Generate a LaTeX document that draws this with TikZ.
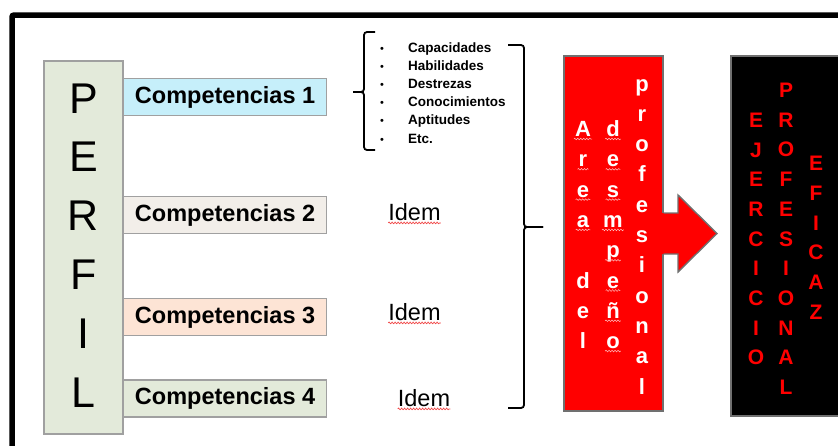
\documentclass[tikz,border=0pt]{standalone}
\usepackage{fontspec}
\setmainfont{Liberation Sans}
\usepackage{xcolor}
\definecolor{perfilgreen}{RGB}{227,234,218}
\definecolor{compblue}{RGB}{198,239,250}
\definecolor{compbeige}{RGB}{242,238,233}
\definecolor{comppeach}{RGB}{253,228,213}
\definecolor{boxgray}{RGB}{160,160,160}
\definecolor{edgegray}{RGB}{112,112,112}
\definecolor{brightred}{RGB}{255,0,0}
\definecolor{squigglered}{RGB}{240,70,70}
\definecolor{squigglepink}{RGB}{255,190,190}
\usetikzlibrary{positioning,decorations.pathmorphing}

\tikzset{
	marco/.style={draw=black, line width=5.5pt, rounded corners=2pt},
	perfilbox/.style={draw=boxgray, line width=1.2pt, fill=perfilgreen,
		minimum width=79pt, minimum height=373pt, inner sep=0pt},
	perfilletra/.style={anchor=base, inner sep=0pt, font=\fontsize{43}{50}\selectfont},
	compbox/.style={draw=boxgray, line width=1.2pt, anchor=west, inner sep=0pt,
		minimum width=203pt, minimum height=37pt,
		font=\fontsize{23.5}{28}\selectfont\bfseries},
	itemtxt/.style={anchor=base west, inner sep=0pt, font=\fontsize{13.5}{16}\selectfont\bfseries},
	itemdot/.style={anchor=base, inner sep=0pt, font=\fontsize{11}{13}\selectfont},
	llave/.style={draw=black, line width=1.8pt, rounded corners=3pt},
	idem/.style={inner sep=0pt, font=\fontsize{23.5}{28}\selectfont},
	ondulado/.style={draw=squigglered, line width=0.7pt,
		decorate, decoration={snake, amplitude=0.8pt, segment length=3pt}},
	onduladoblanco/.style={ondulado, draw=squigglepink, line width=0.5pt},
	areabox/.style={draw=edgegray, line width=1.4pt, fill=brightred,
		minimum width=99pt, minimum height=355pt, inner sep=0pt},
	flechaborde/.style={draw=edgegray, line width=1.4pt},
	letrablanca/.style={anchor=base, inner sep=0pt, text=white,
		font=\fontsize{22}{26}\selectfont\bfseries},
	negrobox/.style={draw=edgegray, line width=1.4pt, fill=black,
		minimum width=129pt, minimum height=360pt, inner sep=0pt},
	letraroja/.style={anchor=base, inner sep=0pt, text=brightred,
		font=\fontsize{21}{25}\selectfont\bfseries}
}

\begin{document}
\begin{tikzpicture}[x=1pt, y=-1pt]
	\clip (0,0) rectangle (838,445);
	\draw[marco] (12,15) rectangle (870,470); % outer frame, runs off the page
	
	% perfil column
	\node[perfilbox] (perfil) at (83.5,247.5) {};
	\foreach \l [count=\i from 0] in {P,E,R,F,I,L}
		\node[perfilletra] (perfil-\i) at (83.5,{113+58.9*\i}) {\l};
	
	% competencias
	\node[compbox, fill=compblue]    (comp1) at (123,97)    {Competencias 1};
	\node[compbox, fill=compbeige]   (comp2) at (123,215)   {Competencias 2};
	\node[compbox, fill=comppeach]   (comp3) at (123,317)   {Competencias 3};
	\node[compbox, fill=perfilgreen] (comp4) at (123,398.5) {Competencias 4};
	
	% list of the first competencia
	\foreach \txt [count=\i from 0] in {Capacidades,Habilidades,Destrezas,Conocimientos,Aptitudes,Etc.}{
		\node[itemdot] (dot-\i) at (382,{52+18.2*\i}) {\textbullet};
		\node[itemtxt] (item-\i) at (408,{52+18.2*\i}) {\txt};
	}
	\coordinate (llave1-tip) at (353,92);
	\draw[llave] (375,32) -- (364,32) -- (364,92) -- (llave1-tip);
	\draw[llave] (llave1-tip) -- (364,92) -- (364,150) -- (375,150);
	
	% idem
	\node[idem] (idem2) at (414.5,212) {Idem};
	\node[idem] (idem3) at (414.5,312) {Idem};
	\node[idem] (idem4) at (424,398)   {Idem};
	\foreach \n in {idem2,idem3,idem4}
		\draw[ondulado] ([yshift=-2.5pt]\n.base west) -- ([yshift=-2.5pt]\n.base east);
	
	% big brace towards the area box
	\coordinate (llave2-tip) at (543,227);
	\draw[llave] (508,45) -- (524,45) -- (524,227) -- (llave2-tip);
	\draw[llave] (llave2-tip) -- (524,227) -- (524,408) -- (508,408);
	
	% area box with its arrow
	\node[areabox] (area) at (613.5,233.5) {};
	\fill[brightred] (661.5,213) -- (678,213) -- (678,195) -- (717,233.5)
		-- (678,272) -- (678,254) -- (661.5,254) -- cycle;
	\draw[flechaborde] (area.east |- 0,213) -- (678,213) -- (678,195) -- (717,233.5)
		-- (678,272) -- (678,254) -- (area.east |- 0,254);
	
	\foreach \l [count=\i from 0] in {A,r,e,a}{
		\node[letrablanca] (area-\i) at (583,{136.5+30.3*\i}) {\l};
		\draw[onduladoblanco] ([xshift=-1pt,yshift=-2.5pt]area-\i.base west) -- ([xshift=1pt,yshift=-2.5pt]area-\i.base east);
	}
	\foreach \l [count=\i from 5] in {d,e,l}
		\node[letrablanca] (del-\i) at (583,{136.5+30.3*\i}) {\l};
	\foreach \l [count=\i from 0] in {d,e,s,m,p,e,ñ,o}{
		\node[letrablanca] (desem-\i) at (613,{136.5+30.3*\i}) {\l};
		\draw[onduladoblanco] ([xshift=-1pt,yshift=-2.5pt]desem-\i.base west) -- ([xshift=1pt,yshift=-2.5pt]desem-\i.base east);
	}
	\foreach \l [count=\i from 0] in {p,r,o,f,e,s,i,o,n,a,l}
		\node[letrablanca] (prof-\i) at (642,{91+30.3*\i}) {\l};
	
	% ejercicio box
	\node[negrobox] (ejercicio) at (795.5,236) {};
	\foreach \l [count=\i from 0] in {E,J,E,R,C,I,C,I,O}
		\node[letraroja] (ejer-\i) at (756,{127.3+29.7*\i}) {\l};
	\foreach \l [count=\i from 0] in {P,R,O,F,E,S,I,O,N,A,L}
		\node[letraroja] (profe-\i) at (786,{97.5+29.7*\i}) {\l};
	\foreach \l [count=\i from 0] in {E,F,I,C,A,Z}
		\node[letraroja] (efi-\i) at (816,{170.5+29.8*\i}) {\l};
\end{tikzpicture}
\end{document}
